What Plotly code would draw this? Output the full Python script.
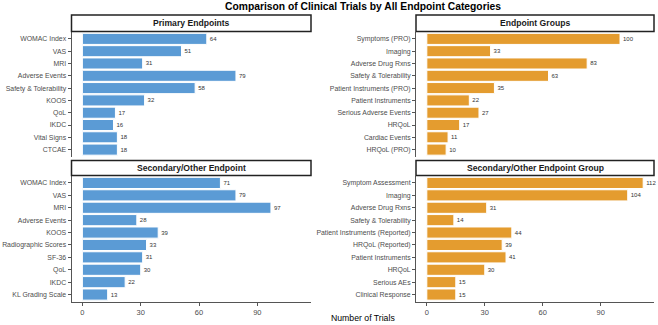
import plotly.graph_objects as go

W, H = 658, 325

primary_cats = ["WOMAC Index", "VAS", "MRI", "Adverse Events", "Safety & Tolerability",
                "KOOS", "QoL", "IKDC", "Vital Signs", "CTCAE"]
primary_vals = [64, 51, 31, 79, 58, 32, 17, 16, 18, 18]

group_cats = ["Symptoms (PRO)", "Imaging", "Adverse Drug Rxns", "Safety & Tolerability",
              "Patient Instruments (PRO)", "Patient Instruments", "Serious Adverse Events",
              "HRQoL", "Cardiac Events", "HRQoL (PRO)"]
group_vals = [100, 33, 83, 63, 35, 22, 27, 17, 11, 10]

secondary_cats = ["WOMAC Index", "VAS", "MRI", "Adverse Events", "KOOS",
                  "Radiographic Scores", "SF-36", "QoL", "IKDC", "KL Grading Scale"]
secondary_vals = [71, 79, 97, 28, 39, 33, 31, 30, 22, 13]

secgroup_cats = ["Symptom Assessment", "Imaging", "Adverse Drug Rxns", "Safety & Tolerability",
                 "Patient Instruments (Reported)", "HRQoL (Reported)", "Patient Instruments",
                 "HRQoL", "Serious AEs", "Clinical Response"]
secgroup_vals = [112, 104, 31, 14, 44, 39, 41, 30, 15, 15]

panel_titles = ["Primary Endpoints", "Endpoint Groups",
                "Secondary/Other Endpoint", "Secondary/Other Endpoint Group"]
x_ticks = [0, 30, 60, 90]

BLUE = "#5B9BD5"
ORANGE = "#E49C2F"


def px_x(p):
    return p / W


def px_y(p):
    return 1 - p / H


# panel pixel boxes (left, right, top, bottom)
cols = [(71.5, 311), (416, 654)]
rows = [(31.5, 157), (175.5, 302)]
strips = [(15, 31.5), (160.5, 175.5)]

panels = [
    (primary_cats, primary_vals, BLUE, 0, 0),
    (group_cats, group_vals, ORANGE, 0, 1),
    (secondary_cats, secondary_vals, BLUE, 1, 0),
    (secgroup_cats, secgroup_vals, ORANGE, 1, 1),
]

fig = go.Figure()
shapes = []
annotations = []
layout = {}
xmax = max(max(primary_vals), max(group_vals), max(secondary_vals), max(secgroup_vals))
xr = [-0.05 * xmax, xmax * 1.05]

for i, (cats, vals, col, r, c) in enumerate(panels):
    idx = i + 1
    xa = "x" if idx == 1 else f"x{idx}"
    ya = "y" if idx == 1 else f"y{idx}"
    fig.add_trace(go.Bar(
        x=vals, y=cats, orientation="h", xaxis=xa, yaxis=ya,
        marker=dict(color=col, line=dict(color="white", width=1)),
        width=0.9, text=[str(v) for v in vals], textposition="outside",
        textfont=dict(size=6, color="#333333", family="Liberation Sans"),
        cliponaxis=False, showlegend=False, hoverinfo="skip",
    ))
    l, rr = cols[c]
    t, b = rows[r]
    bottom = (r == 1)
    layout["xaxis" + ("" if idx == 1 else str(idx))] = dict(
        domain=[px_x(l), px_x(rr)], anchor=ya, range=xr,
        showgrid=False, zeroline=False,
        showline=bottom, linecolor="#555555", linewidth=1,
        ticks="outside" if bottom else "", ticklen=3, tickcolor="#555555",
        tickvals=x_ticks, showticklabels=bottom,
        tickfont=dict(size=7.5, color="#4D4D4D", family="Liberation Sans"),
        automargin=False,
    )
    layout["yaxis" + ("" if idx == 1 else str(idx))] = dict(
        domain=[px_y(b), px_y(t)], anchor=xa,
        type="category", categoryorder="array", categoryarray=cats,
        range=[len(cats) - 0.4, -0.6],
        showgrid=False, zeroline=False,
        showline=True, linecolor="#555555", linewidth=1,
        ticks="outside", ticklen=3, tickcolor="#555555",
        tickfont=dict(size=6.9, color="#4D4D4D", family="Liberation Sans"),
        automargin=False,
    )
    st, sb = strips[r]
    shapes.append(dict(type="rect", xref="paper", yref="paper",
                       x0=px_x(l), x1=px_x(rr), y0=px_y(sb), y1=px_y(st),
                       line=dict(color="#222222", width=1.5), fillcolor="white", layer="above"))
    annotations.append(dict(text="<b>" + panel_titles[i] + "</b>", xref="paper", yref="paper",
                            x=px_x((l + rr) / 2), y=px_y((st + sb) / 2),
                            xanchor="center", yanchor="middle", showarrow=False,
                            font=dict(size=8.6, color="#1A1A1A", family="Liberation Sans")))

annotations.append(dict(text="<b>Comparison of Clinical Trials by All Endpoint Categories</b>",
                        xref="paper", yref="paper", x=px_x(362.5), y=px_y(6.5),
                        xanchor="center", yanchor="middle", showarrow=False,
                        font=dict(size=10.3, color="black", family="Liberation Sans")))
annotations.append(dict(text="Number of Trials", xref="paper", yref="paper",
                        x=px_x(362.5), y=px_y(318), xanchor="center", yanchor="middle",
                        showarrow=False,
                        font=dict(size=8.7, color="black", family="Liberation Sans")))

fig.update_layout(
    width=W, height=H, margin=dict(l=0, r=0, t=0, b=0),
    paper_bgcolor="white", plot_bgcolor="white",
    shapes=shapes, annotations=annotations, bargap=0.1,
    **layout,
)

fig.write_html("out.html")
